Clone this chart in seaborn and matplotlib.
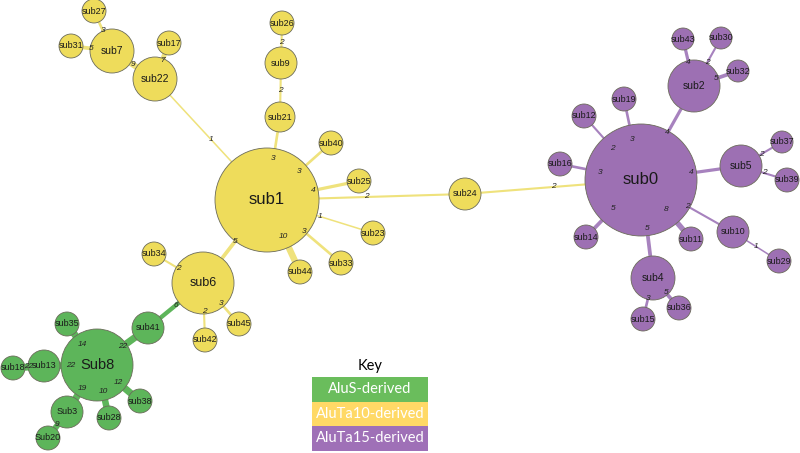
import numpy as np
import pandas as pd
import matplotlib
matplotlib.use("Agg")
import matplotlib.pyplot as plt
import seaborn as sns
from matplotlib.patches import Rectangle

sns.set_theme(style="white")
plt.rcParams["font.family"] = ["Liberation Sans", "DejaVu Sans"]

# Узлы по группам
aluta10_nodes = ["sub1", "sub21", "sub9", "sub26", "sub22", "sub7", "sub27", "sub31", "sub17",
                 "sub40", "sub25", "sub23", "sub33", "sub44", "sub24", "sub6", "sub34", "sub42", "sub45"]
aluta10_sizes = [52, 15, 16, 12, 22, 22, 12, 12, 12, 12, 12, 12, 12, 12, 16, 31, 12, 12, 12]

alus_nodes = ["Sub8", "sub41", "sub35", "sub13", "sub18", "Sub3", "Sub20", "sub28", "sub38"]
alus_sizes = [36, 16, 12, 16, 12, 16, 12, 12, 12]

aluta15_nodes = ["sub0", "sub2", "sub43", "sub30", "sub32", "sub19", "sub12", "sub16", "sub14",
                 "sub11", "sub4", "sub15", "sub36", "sub10", "sub29", "sub5", "sub37", "sub39"]
aluta15_sizes = [56, 26, 11, 11, 11, 12, 12, 12, 12, 12, 22, 12, 12, 16, 12, 21, 11, 12]

# Рёбра: (центр, лист, вес)
edge_hub = ["sub1", "sub22", "sub7", "sub7", "sub22", "sub1", "sub21", "sub9", "sub1", "sub1",
            "sub1", "sub1", "sub1", "sub1", "sub1", "sub6", "sub6", "sub6", "sub6", "sub0",
            "Sub8", "Sub8", "Sub8", "sub13", "Sub8", "Sub3", "Sub8", "Sub8",
            "sub0", "sub2", "sub2", "sub2", "sub0", "sub0", "sub0", "sub0", "sub0", "sub0",
            "sub0", "sub10", "sub0", "sub5", "sub5", "sub4", "sub4"]
edge_leaf = ["sub22", "sub7", "sub27", "sub31", "sub17", "sub21", "sub9", "sub26", "sub40", "sub25",
             "sub24", "sub23", "sub33", "sub44", "sub6", "sub34", "sub42", "sub45", "sub41", "sub24",
             "sub41", "sub35", "sub13", "sub18", "Sub3", "Sub20", "sub28", "sub38",
             "sub2", "sub43", "sub30", "sub32", "sub19", "sub12", "sub16", "sub14", "sub4", "sub11",
             "sub10", "sub29", "sub5", "sub37", "sub39", "sub15", "sub36"]
edge_weight = [1, 9, 3, 5, 7, 3, 2, 2, 3, 4,
               2, 1, 3, 10, 5, 2, 2, 3, 6, 2,
               22, 14, 22, 22, 19, 9, 10, 12,
               4, 4, 2, 5, 3, 2, 3, 5, 5, 8,
               2, 1, 4, 2, 2, 3, 5]

key_labels = ["AluS-derived", "AluTa10-derived", "AluTa15-derived"]

# Раскладка графа (пиксели)
layout = {
    "sub1": (267, 200), "sub21": (280, 117), "sub9": (281, 63), "sub26": (282, 23),
    "sub22": (155, 79), "sub7": (112, 51), "sub27": (94, 11), "sub31": (71, 46),
    "sub17": (169, 43), "sub40": (331, 143), "sub25": (359, 181), "sub23": (373, 233),
    "sub33": (341, 263), "sub44": (300, 272), "sub24": (465, 194), "sub6": (203, 283),
    "sub34": (154, 254), "sub42": (205, 340), "sub45": (239, 324),
    "Sub8": (97, 365), "sub41": (148, 328), "sub35": (67, 324), "sub13": (44, 366),
    "sub18": (13, 368), "Sub3": (67, 412), "Sub20": (48, 438), "sub28": (109, 418),
    "sub38": (140, 401),
    "sub0": (641, 180), "sub2": (694, 86), "sub43": (683, 39), "sub30": (721, 38),
    "sub32": (738, 71), "sub19": (624, 99), "sub12": (584, 116), "sub16": (560, 164),
    "sub14": (586, 237), "sub11": (691, 239), "sub4": (653, 278), "sub15": (643, 319),
    "sub36": (679, 308), "sub10": (733, 232), "sub29": (779, 261), "sub5": (741, 166),
    "sub37": (782, 142), "sub39": (787, 180),
}

node_colors = {"AluS": "#5db55a", "AluTa10": "#eedc5b", "AluTa15": "#9d70b3"}
edge_colors = {"AluS": "#5db55a", "AluTa10": "#efe27c", "AluTa15": "#a782be"}
key_colors = ["#6abd5c", "#ffd966", "#9f70b7"]

nodes = pd.DataFrame({
    "name": alus_nodes + aluta10_nodes + aluta15_nodes,
    "group": ["AluS"] * len(alus_nodes) + ["AluTa10"] * len(aluta10_nodes) + ["AluTa15"] * len(aluta15_nodes),
    "size": alus_sizes + aluta10_sizes + aluta15_sizes,
})
nodes["x"] = [layout[n][0] for n in nodes["name"]]
nodes["y"] = [layout[n][1] for n in nodes["name"]]
# радиус в пикселях -> площадь маркера в pt^2 (dpi=100)
nodes["area"] = (2 * nodes["size"] * 0.72) ** 2
node_group = dict(zip(nodes["name"], nodes["group"]))
node_size = dict(zip(nodes["name"], nodes["size"]))

fig = plt.figure(figsize=(8, 4.53), dpi=100)
ax = fig.add_axes([0, 0, 1, 1])
ax.set_xlim(0, 800)
ax.set_ylim(453, 0)
ax.set_axis_off()

# рёбра
for hub, leaf, w in zip(edge_hub, edge_leaf, edge_weight):
    x0, y0 = layout[hub]
    x1, y1 = layout[leaf]
    lw = min(1.0 + 0.55 * w, 7.0) * 0.72
    ax.plot([x0, x1], [y0, y1], color=edge_colors[node_group[leaf]], lw=lw,
            solid_capstyle="butt", zorder=1)

# узлы
a_min, a_max = nodes["area"].min(), nodes["area"].max()
sns.scatterplot(data=nodes, x="x", y="y", hue="group", palette=node_colors,
                size="area", sizes=(a_min, a_max), size_norm=(a_min, a_max),
                edgecolor="#6b6b5a", linewidth=0.6, alpha=1, legend=False, ax=ax, zorder=2)
ax.set_xlim(0, 800)
ax.set_ylim(453, 0)

# подписи рёбер (в середине)
for hub, leaf, w in zip(edge_hub, edge_leaf, edge_weight):
    x0, y0 = layout[hub]
    x1, y1 = layout[leaf]
    ax.text((x0 + x1) / 2, (y0 + y1) / 2, str(w), fontsize=6, style="italic",
            color="#222222", ha="center", va="center", zorder=3)

# подписи узлов
for _, row in nodes.iterrows():
    r = row["size"]
    if r >= 50:
        fs = 12
    elif r >= 34:
        fs = 10.5
    elif r >= 28:
        fs = 9
    elif r >= 20:
        fs = 7.5
    else:
        fs = 6.5
    ax.text(row["x"], row["y"], row["name"], fontsize=fs, color="#1a1a1a",
            ha="center", va="center", zorder=4)

# ключ
ax.text(370, 366, "Key", fontsize=10.5, ha="center", va="center", color="black",
        family=["Lato", "DejaVu Sans"])
for i, (lab, col) in enumerate(zip(key_labels, key_colors)):
    y = 377 + i * 24.5
    ax.add_patch(Rectangle((312, y), 116, 24.5, facecolor=col, edgecolor="none", zorder=2))
    ax.text(370, y + 12.3, lab, fontsize=10.5, color="white", ha="center", va="center",
            family=["Lato", "DejaVu Sans"], zorder=3)

fig.savefig("out.png", dpi=100)
plt.close(fig)
